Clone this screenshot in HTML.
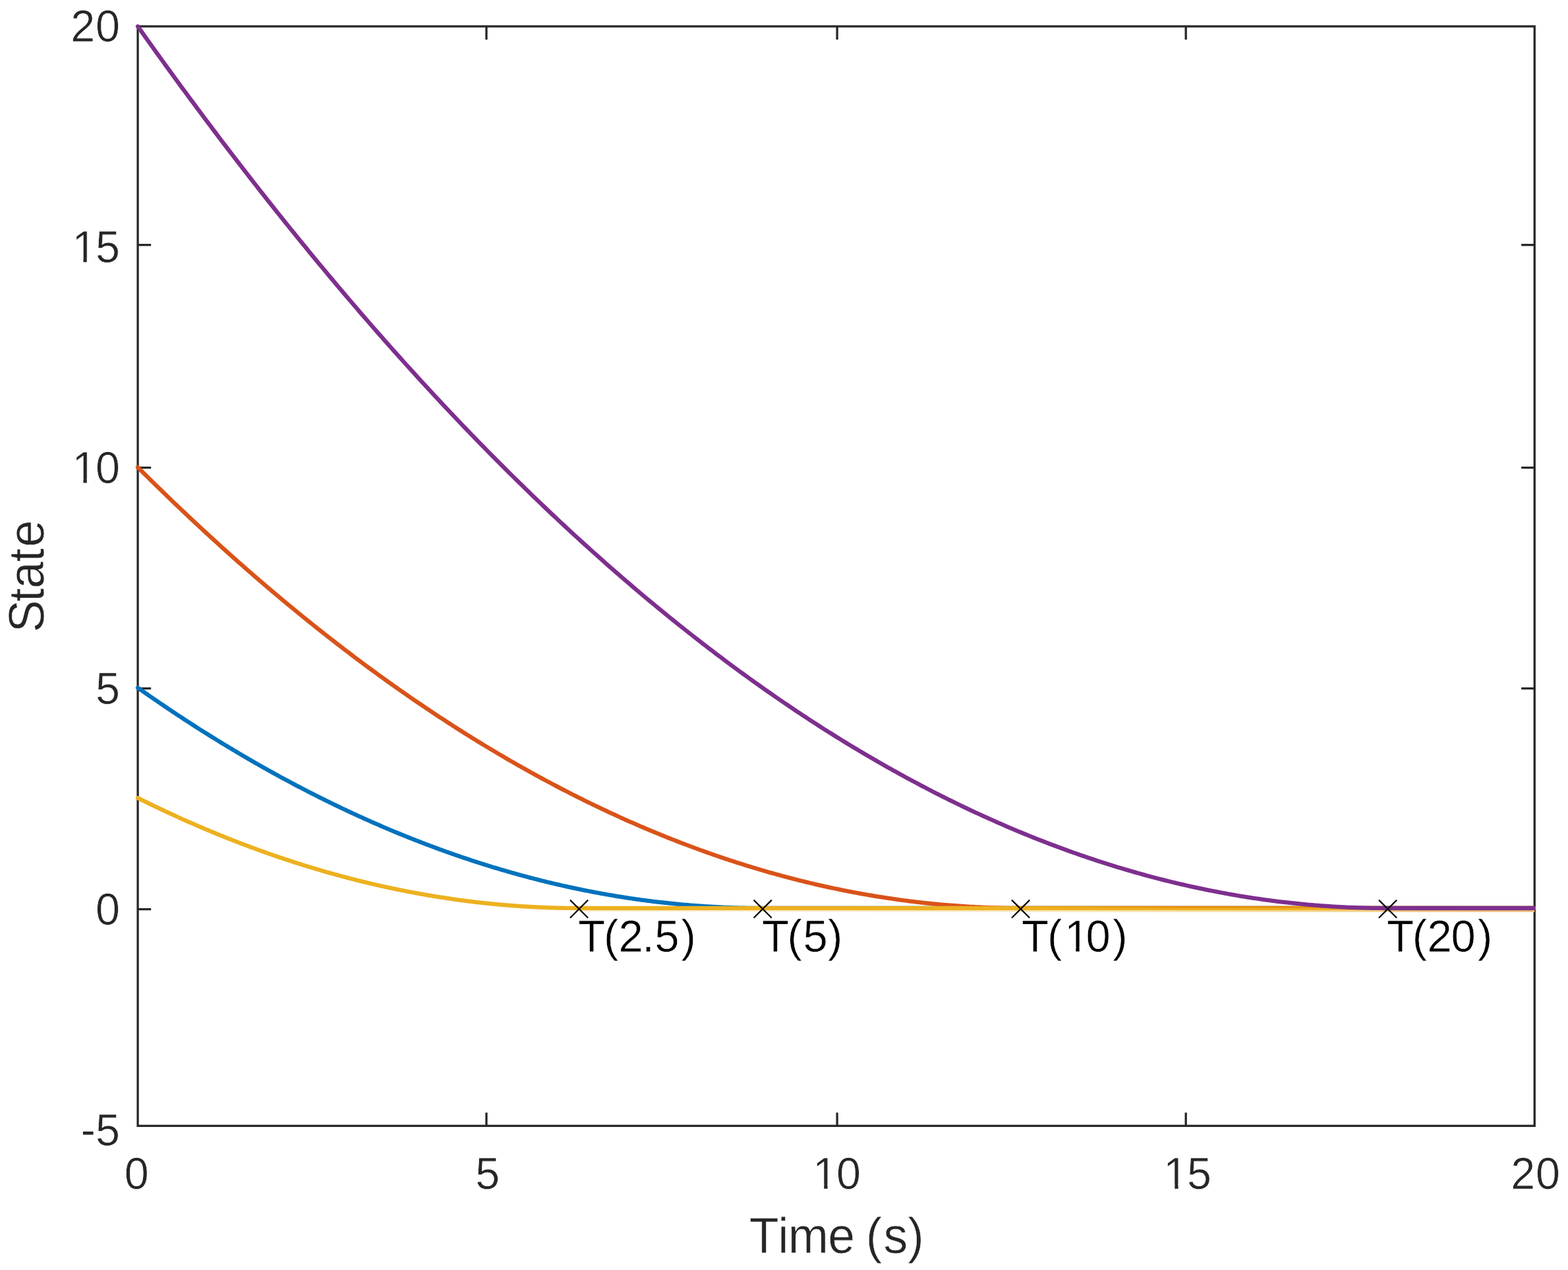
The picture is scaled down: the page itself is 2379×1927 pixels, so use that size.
<!DOCTYPE html>
<html lang="en"><head><meta charset="utf-8"><title>State vs Time</title>
<style>
html,body{margin:0;padding:0;background:#fff;}
body{width:2379px;height:1927px;overflow:hidden;}
svg{display:block;}
text{font-family:"Liberation Sans",sans-serif;stroke:#fff;stroke-width:0.6px;stroke-linejoin:round;}
.tk{fill:#262626;}
.lb{fill:#262626;}
.an{fill:#000;}
.c{fill:none;stroke-width:6.3;stroke-linejoin:round;stroke-linecap:round;}
.ax{stroke:#262626;stroke-width:3.3;fill:none;}
.mk{stroke:#000;stroke-width:2.2;fill:none;stroke-linecap:butt;}
.w{fill:#fff;}
</style></head><body>
<svg width="2379" height="1927" viewBox="0 0 2379 1927">
<rect x="0" y="0" width="2379" height="1927" fill="#fff"/>
<rect class="ax" x="209.05" y="40.00" width="2119.20" height="1668.30"/>
<line class="ax" x1="738.00" y1="1708.30" x2="738.00" y2="1688.20"/>
<line class="ax" x1="738.00" y1="40.00" x2="738.00" y2="60.10"/>
<line class="ax" x1="1270.10" y1="1708.30" x2="1270.10" y2="1688.20"/>
<line class="ax" x1="1270.10" y1="40.00" x2="1270.10" y2="60.10"/>
<line class="ax" x1="1799.20" y1="1708.30" x2="1799.20" y2="1688.20"/>
<line class="ax" x1="1799.20" y1="40.00" x2="1799.20" y2="60.10"/>
<line class="ax" x1="209.05" y1="371.65" x2="229.15" y2="371.65"/>
<line class="ax" x1="2328.25" y1="371.65" x2="2308.15" y2="371.65"/>
<line class="ax" x1="209.05" y1="709.60" x2="229.15" y2="709.60"/>
<line class="ax" x1="2328.25" y1="709.60" x2="2308.15" y2="709.60"/>
<line class="ax" x1="209.05" y1="1044.60" x2="229.15" y2="1044.60"/>
<line class="ax" x1="2328.25" y1="1044.60" x2="2308.15" y2="1044.60"/>
<line class="ax" x1="209.05" y1="1379.60" x2="229.15" y2="1379.60"/>
<line class="ax" x1="2328.25" y1="1379.60" x2="2308.15" y2="1379.60"/>
<path class="c" stroke="#0072BD" d="M209.05,1043.50 L211.42,1045.17 L213.79,1046.84 L216.16,1048.50 L218.53,1050.16 L220.90,1051.81 L223.27,1053.46 L225.64,1055.11 L228.00,1056.75 L230.37,1058.38 L232.74,1060.02 L235.11,1061.64 L237.48,1063.27 L239.85,1064.89 L242.22,1066.51 L244.59,1068.12 L246.96,1069.72 L249.33,1071.33 L251.70,1072.93 L254.07,1074.52 L256.44,1076.11 L258.81,1077.70 L261.18,1079.28 L263.54,1080.86 L265.91,1082.44 L268.28,1084.01 L270.65,1085.57 L273.02,1087.13 L275.39,1088.69 L277.76,1090.24 L280.13,1091.79 L282.50,1093.34 L284.87,1094.88 L287.24,1096.42 L289.61,1097.95 L291.98,1099.48 L294.35,1101.00 L296.72,1102.52 L299.08,1104.04 L301.45,1105.55 L303.82,1107.06 L306.19,1108.56 L308.56,1110.06 L310.93,1111.55 L313.30,1113.04 L315.67,1114.53 L318.04,1116.01 L320.41,1117.49 L322.78,1118.96 L325.15,1120.43 L327.52,1121.90 L329.89,1123.36 L332.26,1124.82 L334.62,1126.27 L336.99,1127.72 L339.36,1129.16 L341.73,1130.60 L344.10,1132.04 L346.47,1133.47 L348.84,1134.90 L351.21,1136.32 L353.58,1137.74 L355.95,1139.16 L358.32,1140.57 L360.69,1141.98 L363.06,1143.38 L365.43,1144.78 L367.80,1146.17 L370.16,1147.56 L372.53,1148.95 L374.90,1150.33 L377.27,1151.71 L379.64,1153.08 L382.01,1154.45 L384.38,1155.82 L386.75,1157.18 L389.12,1158.53 L391.49,1159.89 L393.86,1161.24 L396.23,1162.58 L398.60,1163.92 L400.97,1165.26 L403.34,1166.59 L405.71,1167.92 L408.07,1169.24 L410.44,1170.56 L412.81,1171.87 L415.18,1173.18 L417.55,1174.49 L419.92,1175.79 L422.29,1177.09 L424.66,1178.39 L427.03,1179.67 L429.40,1180.96 L431.77,1182.24 L434.14,1183.52 L436.51,1184.79 L438.88,1186.06 L441.25,1187.33 L443.61,1188.59 L445.98,1189.84 L448.35,1191.10 L450.72,1192.34 L453.09,1193.59 L455.46,1194.83 L457.83,1196.06 L460.20,1197.29 L462.57,1198.52 L464.94,1199.74 L467.31,1200.96 L469.68,1202.18 L472.05,1203.39 L474.42,1204.60 L476.79,1205.80 L479.15,1207.00 L481.52,1208.19 L483.89,1209.38 L486.26,1210.56 L488.63,1211.75 L491.00,1212.92 L493.37,1214.10 L495.74,1215.26 L498.11,1216.43 L500.48,1217.59 L502.85,1218.74 L505.22,1219.90 L507.59,1221.04 L509.96,1222.19 L512.33,1223.33 L514.69,1224.46 L517.06,1225.59 L519.43,1226.72 L521.80,1227.84 L524.17,1228.96 L526.54,1230.08 L528.91,1231.19 L531.28,1232.29 L533.65,1233.39 L536.02,1234.49 L538.39,1235.58 L540.76,1236.67 L543.13,1237.76 L545.50,1238.84 L547.87,1239.92 L550.23,1240.99 L552.60,1242.06 L554.97,1243.12 L557.34,1244.18 L559.71,1245.24 L562.08,1246.29 L564.45,1247.34 L566.82,1248.38 L569.19,1249.42 L571.56,1250.45 L573.93,1251.48 L576.30,1252.51 L578.67,1253.53 L581.04,1254.55 L583.41,1255.56 L585.77,1256.57 L588.14,1257.58 L590.51,1258.58 L592.88,1259.58 L595.25,1260.57 L597.62,1261.56 L599.99,1262.55 L602.36,1263.53 L604.73,1264.50 L607.10,1265.47 L609.47,1266.44 L611.84,1267.41 L614.21,1268.37 L616.58,1269.32 L618.95,1270.27 L621.31,1271.22 L623.68,1272.16 L626.05,1273.10 L628.42,1274.04 L630.79,1274.97 L633.16,1275.89 L635.53,1276.81 L637.90,1277.73 L640.27,1278.65 L642.64,1279.55 L645.01,1280.46 L647.38,1281.36 L649.75,1282.26 L652.12,1283.15 L654.49,1284.04 L656.85,1284.92 L659.22,1285.80 L661.59,1286.68 L663.96,1287.55 L666.33,1288.42 L668.70,1289.28 L671.07,1290.14 L673.44,1291.00 L675.81,1291.85 L678.18,1292.69 L680.55,1293.54 L682.92,1294.38 L685.29,1295.21 L687.66,1296.04 L690.03,1296.86 L692.39,1297.69 L694.76,1298.50 L697.13,1299.32 L699.50,1300.13 L701.87,1300.93 L704.24,1301.73 L706.61,1302.53 L708.98,1303.32 L711.35,1304.11 L713.72,1304.89 L716.09,1305.67 L718.46,1306.45 L720.83,1307.22 L723.20,1307.99 L725.57,1308.75 L727.93,1309.51 L730.30,1310.26 L732.67,1311.01 L735.04,1311.76 L737.41,1312.50 L739.78,1313.24 L742.15,1313.97 L744.52,1314.70 L746.89,1315.43 L749.26,1316.15 L751.63,1316.87 L754.00,1317.58 L756.37,1318.29 L758.74,1318.99 L761.11,1319.69 L763.48,1320.39 L765.84,1321.08 L768.21,1321.77 L770.58,1322.45 L772.95,1323.13 L775.32,1323.81 L777.69,1324.48 L780.06,1325.15 L782.43,1325.81 L784.80,1326.47 L787.17,1327.12 L789.54,1327.77 L791.91,1328.42 L794.28,1329.06 L796.65,1329.70 L799.02,1330.33 L801.38,1330.96 L803.75,1331.59 L806.12,1332.21 L808.49,1332.82 L810.86,1333.44 L813.23,1334.04 L815.60,1334.65 L817.97,1335.25 L820.34,1335.84 L822.71,1336.44 L825.08,1337.02 L827.45,1337.61 L829.82,1338.19 L832.19,1338.76 L834.56,1339.33 L836.92,1339.90 L839.29,1340.46 L841.66,1341.02 L844.03,1341.57 L846.40,1342.12 L848.77,1342.67 L851.14,1343.21 L853.51,1343.75 L855.88,1344.28 L858.25,1344.81 L860.62,1345.33 L862.99,1345.85 L865.36,1346.37 L867.73,1346.88 L870.10,1347.39 L872.46,1347.89 L874.83,1348.39 L877.20,1348.89 L879.57,1349.38 L881.94,1349.87 L884.31,1350.35 L886.68,1350.83 L889.05,1351.30 L891.42,1351.78 L893.79,1352.24 L896.16,1352.70 L898.53,1353.16 L900.90,1353.61 L903.27,1354.06 L905.64,1354.51 L908.00,1354.95 L910.37,1355.39 L912.74,1355.82 L915.11,1356.25 L917.48,1356.67 L919.85,1357.09 L922.22,1357.51 L924.59,1357.92 L926.96,1358.33 L929.33,1358.73 L931.70,1359.13 L934.07,1359.53 L936.44,1359.92 L938.81,1360.30 L941.18,1360.69 L943.54,1361.07 L945.91,1361.44 L948.28,1361.81 L950.65,1362.18 L953.02,1362.54 L955.39,1362.90 L957.76,1363.25 L960.13,1363.60 L962.50,1363.94 L964.87,1364.28 L967.24,1364.62 L969.61,1364.95 L971.98,1365.28 L974.35,1365.60 L976.72,1365.92 L979.08,1366.24 L981.45,1366.55 L983.82,1366.86 L986.19,1367.16 L988.56,1367.46 L990.93,1367.76 L993.30,1368.05 L995.67,1368.33 L998.04,1368.62 L1000.41,1368.89 L1002.78,1369.17 L1005.15,1369.44 L1007.52,1369.70 L1009.89,1369.96 L1012.26,1370.22 L1014.62,1370.47 L1016.99,1370.72 L1019.36,1370.97 L1021.73,1371.21 L1024.10,1371.44 L1026.47,1371.68 L1028.84,1371.90 L1031.21,1372.13 L1033.58,1372.35 L1035.95,1372.56 L1038.32,1372.77 L1040.69,1372.98 L1043.06,1373.18 L1045.43,1373.38 L1047.80,1373.58 L1050.16,1373.77 L1052.53,1373.95 L1054.90,1374.13 L1057.27,1374.31 L1059.64,1374.49 L1062.01,1374.65 L1064.38,1374.82 L1066.75,1374.98 L1069.12,1375.14 L1071.49,1375.29 L1073.86,1375.44 L1076.23,1375.58 L1078.60,1375.72 L1080.97,1375.86 L1083.34,1375.99 L1085.70,1376.12 L1088.07,1376.24 L1090.44,1376.36 L1092.81,1376.48 L1095.18,1376.59 L1097.55,1376.69 L1099.92,1376.80 L1102.29,1376.89 L1104.66,1376.99 L1107.03,1377.08 L1109.40,1377.16 L1111.77,1377.25 L1114.14,1377.32 L1116.51,1377.40 L1118.88,1377.46 L1121.24,1377.53 L1123.61,1377.59 L1125.98,1377.65 L1128.35,1377.70 L1130.72,1377.75 L1133.09,1377.79 L1135.46,1377.83 L1137.83,1377.87 L1140.20,1377.90 L1142.57,1377.92 L1144.94,1377.95 L1147.31,1377.97 L1149.68,1377.98 L1152.05,1377.99 L1154.42,1378.00 L1156.79,1378.00 L2326.65,1378.00"/>
<path class="c" stroke="#D95319" d="M209.05,709.00 L212.40,712.34 L215.75,715.67 L219.10,719.00 L222.45,722.31 L225.80,725.62 L229.15,728.92 L232.51,732.21 L235.86,735.49 L239.21,738.77 L242.56,742.03 L245.91,745.29 L249.26,748.54 L252.61,751.78 L255.96,755.01 L259.31,758.23 L262.66,761.45 L266.01,764.66 L269.36,767.86 L272.71,771.05 L276.06,774.23 L279.42,777.40 L282.77,780.57 L286.12,783.72 L289.47,786.87 L292.82,790.01 L296.17,793.14 L299.52,796.27 L302.87,799.38 L306.22,802.49 L309.57,805.59 L312.92,808.68 L316.27,811.76 L319.62,814.83 L322.98,817.90 L326.33,820.95 L329.68,824.00 L333.03,827.04 L336.38,830.07 L339.73,833.10 L343.08,836.11 L346.43,839.12 L349.78,842.11 L353.13,845.10 L356.48,848.09 L359.83,851.06 L363.18,854.02 L366.54,856.98 L369.89,859.93 L373.24,862.87 L376.59,865.80 L379.94,868.72 L383.29,871.63 L386.64,874.54 L389.99,877.44 L393.34,880.33 L396.69,883.21 L400.04,886.08 L403.39,888.94 L406.74,891.80 L410.09,894.65 L413.45,897.49 L416.80,900.32 L420.15,903.14 L423.50,905.95 L426.85,908.76 L430.20,911.56 L433.55,914.35 L436.90,917.13 L440.25,919.90 L443.60,922.66 L446.95,925.42 L450.30,928.16 L453.65,930.90 L457.01,933.63 L460.36,936.36 L463.71,939.07 L467.06,941.77 L470.41,944.47 L473.76,947.16 L477.11,949.84 L480.46,952.51 L483.81,955.18 L487.16,957.83 L490.51,960.48 L493.86,963.12 L497.21,965.75 L500.57,968.37 L503.92,970.98 L507.27,973.59 L510.62,976.18 L513.97,978.77 L517.32,981.35 L520.67,983.92 L524.02,986.48 L527.37,989.04 L530.72,991.59 L534.07,994.12 L537.42,996.65 L540.77,999.17 L544.12,1001.69 L547.48,1004.19 L550.83,1006.69 L554.18,1009.18 L557.53,1011.66 L560.88,1014.13 L564.23,1016.59 L567.58,1019.04 L570.93,1021.49 L574.28,1023.93 L577.63,1026.36 L580.98,1028.78 L584.33,1031.19 L587.68,1033.59 L591.04,1035.99 L594.39,1038.38 L597.74,1040.76 L601.09,1043.13 L604.44,1045.49 L607.79,1047.84 L611.14,1050.19 L614.49,1052.53 L617.84,1054.86 L621.19,1057.18 L624.54,1059.49 L627.89,1061.79 L631.24,1064.09 L634.60,1066.38 L637.95,1068.65 L641.30,1070.92 L644.65,1073.19 L648.00,1075.44 L651.35,1077.69 L654.70,1079.92 L658.05,1082.15 L661.40,1084.37 L664.75,1086.58 L668.10,1088.79 L671.45,1090.98 L674.80,1093.17 L678.15,1095.35 L681.51,1097.52 L684.86,1099.68 L688.21,1101.83 L691.56,1103.98 L694.91,1106.11 L698.26,1108.24 L701.61,1110.36 L704.96,1112.47 L708.31,1114.58 L711.66,1116.67 L715.01,1118.76 L718.36,1120.84 L721.71,1122.91 L725.07,1124.97 L728.42,1127.02 L731.77,1129.07 L735.12,1131.10 L738.47,1133.13 L741.82,1135.15 L745.17,1137.16 L748.52,1139.16 L751.87,1141.16 L755.22,1143.14 L758.57,1145.12 L761.92,1147.09 L765.27,1149.05 L768.63,1151.00 L771.98,1152.95 L775.33,1154.88 L778.68,1156.81 L782.03,1158.73 L785.38,1160.64 L788.73,1162.54 L792.08,1164.44 L795.43,1166.32 L798.78,1168.20 L802.13,1170.07 L805.48,1171.93 L808.83,1173.78 L812.18,1175.63 L815.54,1177.46 L818.89,1179.29 L822.24,1181.11 L825.59,1182.92 L828.94,1184.72 L832.29,1186.52 L835.64,1188.30 L838.99,1190.08 L842.34,1191.85 L845.69,1193.61 L849.04,1195.36 L852.39,1197.10 L855.74,1198.84 L859.10,1200.56 L862.45,1202.28 L865.80,1203.99 L869.15,1205.69 L872.50,1207.39 L875.85,1209.07 L879.20,1210.75 L882.55,1212.42 L885.90,1214.08 L889.25,1215.73 L892.60,1217.37 L895.95,1219.01 L899.30,1220.63 L902.66,1222.25 L906.01,1223.86 L909.36,1225.46 L912.71,1227.06 L916.06,1228.64 L919.41,1230.22 L922.76,1231.79 L926.11,1233.35 L929.46,1234.90 L932.81,1236.44 L936.16,1237.97 L939.51,1239.50 L942.86,1241.02 L946.21,1242.53 L949.57,1244.03 L952.92,1245.52 L956.27,1247.01 L959.62,1248.48 L962.97,1249.95 L966.32,1251.41 L969.67,1252.86 L973.02,1254.30 L976.37,1255.74 L979.72,1257.16 L983.07,1258.58 L986.42,1259.99 L989.77,1261.39 L993.13,1262.78 L996.48,1264.17 L999.83,1265.54 L1003.18,1266.91 L1006.53,1268.27 L1009.88,1269.62 L1013.23,1270.96 L1016.58,1272.29 L1019.93,1273.62 L1023.28,1274.94 L1026.63,1276.25 L1029.98,1277.55 L1033.33,1278.84 L1036.69,1280.12 L1040.04,1281.40 L1043.39,1282.66 L1046.74,1283.92 L1050.09,1285.17 L1053.44,1286.41 L1056.79,1287.65 L1060.14,1288.87 L1063.49,1290.09 L1066.84,1291.30 L1070.19,1292.50 L1073.54,1293.69 L1076.89,1294.87 L1080.24,1296.05 L1083.60,1297.21 L1086.95,1298.37 L1090.30,1299.52 L1093.65,1300.66 L1097.00,1301.80 L1100.35,1302.92 L1103.70,1304.04 L1107.05,1305.15 L1110.40,1306.25 L1113.75,1307.34 L1117.10,1308.42 L1120.45,1309.49 L1123.80,1310.56 L1127.16,1311.62 L1130.51,1312.67 L1133.86,1313.71 L1137.21,1314.74 L1140.56,1315.77 L1143.91,1316.78 L1147.26,1317.79 L1150.61,1318.79 L1153.96,1319.78 L1157.31,1320.76 L1160.66,1321.74 L1164.01,1322.70 L1167.36,1323.66 L1170.72,1324.61 L1174.07,1325.55 L1177.42,1326.48 L1180.77,1327.41 L1184.12,1328.32 L1187.47,1329.23 L1190.82,1330.13 L1194.17,1331.02 L1197.52,1331.90 L1200.87,1332.78 L1204.22,1333.64 L1207.57,1334.50 L1210.92,1335.35 L1214.27,1336.19 L1217.63,1337.02 L1220.98,1337.84 L1224.33,1338.66 L1227.68,1339.47 L1231.03,1340.26 L1234.38,1341.05 L1237.73,1341.84 L1241.08,1342.61 L1244.43,1343.38 L1247.78,1344.13 L1251.13,1344.88 L1254.48,1345.62 L1257.83,1346.35 L1261.19,1347.08 L1264.54,1347.79 L1267.89,1348.50 L1271.24,1349.20 L1274.59,1349.89 L1277.94,1350.57 L1281.29,1351.24 L1284.64,1351.90 L1287.99,1352.56 L1291.34,1353.21 L1294.69,1353.85 L1298.04,1354.48 L1301.39,1355.10 L1304.75,1355.72 L1308.10,1356.32 L1311.45,1356.92 L1314.80,1357.51 L1318.15,1358.09 L1321.50,1358.67 L1324.85,1359.23 L1328.20,1359.79 L1331.55,1360.33 L1334.90,1360.87 L1338.25,1361.40 L1341.60,1361.93 L1344.95,1362.44 L1348.30,1362.95 L1351.66,1363.45 L1355.01,1363.93 L1358.36,1364.42 L1361.71,1364.89 L1365.06,1365.35 L1368.41,1365.81 L1371.76,1366.25 L1375.11,1366.69 L1378.46,1367.12 L1381.81,1367.55 L1385.16,1367.96 L1388.51,1368.37 L1391.86,1368.76 L1395.22,1369.15 L1398.57,1369.53 L1401.92,1369.91 L1405.27,1370.27 L1408.62,1370.62 L1411.97,1370.97 L1415.32,1371.31 L1418.67,1371.64 L1422.02,1371.96 L1425.37,1372.28 L1428.72,1372.58 L1432.07,1372.88 L1435.42,1373.17 L1438.78,1373.45 L1442.13,1373.72 L1445.48,1373.98 L1448.83,1374.24 L1452.18,1374.48 L1455.53,1374.72 L1458.88,1374.95 L1462.23,1375.17 L1465.58,1375.39 L1468.93,1375.59 L1472.28,1375.79 L1475.63,1375.98 L1478.98,1376.16 L1482.33,1376.33 L1485.69,1376.49 L1489.04,1376.65 L1492.39,1376.79 L1495.74,1376.93 L1499.09,1377.06 L1502.44,1377.18 L1505.79,1377.29 L1509.14,1377.40 L1512.49,1377.49 L1515.84,1377.58 L1519.19,1377.66 L1522.54,1377.73 L1525.89,1377.80 L1529.25,1377.85 L1532.60,1377.90 L1535.95,1377.93 L1539.30,1377.96 L1542.65,1377.98 L1546.00,1378.00 L1549.35,1378.00 L2326.65,1378.00"/>
<defs>
<linearGradient id="fr" gradientUnits="userSpaceOnUse" x1="886" y1="0" x2="2328.25" y2="0">
<stop offset="0.0000" stop-color="#FDF5E4"/>
<stop offset="0.2871" stop-color="#FCF1DA"/>
<stop offset="0.4673" stop-color="#FAEBC8"/>
<stop offset="0.6199" stop-color="#F8E4B0"/>
<stop offset="0.8348" stop-color="#F4D596"/>
<stop offset="0.8591" stop-color="#F1CB8E"/>
<stop offset="1.0000" stop-color="#EFC384"/>
</linearGradient>
<linearGradient id="og" gradientUnits="userSpaceOnUse" x1="1500" y1="0" x2="2110" y2="0">
<stop offset="0" stop-color="#E8940F" stop-opacity="0"/>
<stop offset="0.2" stop-color="#E8940F" stop-opacity="0.25"/>
<stop offset="0.48" stop-color="#E8940F" stop-opacity="1"/>
<stop offset="1" stop-color="#E8940F" stop-opacity="1"/>
</linearGradient>
</defs>
<rect x="886.00" y="1380.90" width="1442.25" height="3.10" fill="url(#fr)"/>
<path class="c" stroke="#EDB120" d="M209.05,1210.75 L210.73,1211.59 L212.40,1212.42 L214.08,1213.25 L215.75,1214.08 L217.43,1214.91 L219.10,1215.73 L220.78,1216.55 L222.45,1217.37 L224.13,1218.19 L225.80,1219.01 L227.48,1219.82 L229.15,1220.63 L230.83,1221.44 L232.51,1222.25 L234.18,1223.06 L235.86,1223.86 L237.53,1224.66 L239.21,1225.46 L240.88,1226.26 L242.56,1227.06 L244.23,1227.85 L245.91,1228.64 L247.58,1229.43 L249.26,1230.22 L250.93,1231.00 L252.61,1231.79 L254.29,1232.57 L255.96,1233.35 L257.64,1234.12 L259.31,1234.90 L260.99,1235.67 L262.66,1236.44 L264.34,1237.21 L266.01,1237.97 L267.69,1238.74 L269.36,1239.50 L271.04,1240.26 L272.71,1241.02 L274.39,1241.77 L276.06,1242.53 L277.74,1243.28 L279.42,1244.03 L281.09,1244.78 L282.77,1245.52 L284.44,1246.26 L286.12,1247.01 L287.79,1247.74 L289.47,1248.48 L291.14,1249.22 L292.82,1249.95 L294.49,1250.68 L296.17,1251.41 L297.84,1252.13 L299.52,1252.86 L301.20,1253.58 L302.87,1254.30 L304.55,1255.02 L306.22,1255.74 L307.90,1256.45 L309.57,1257.16 L311.25,1257.87 L312.92,1258.58 L314.60,1259.28 L316.27,1259.99 L317.95,1260.69 L319.62,1261.39 L321.30,1262.09 L322.98,1262.78 L324.65,1263.47 L326.33,1264.17 L328.00,1264.85 L329.68,1265.54 L331.35,1266.23 L333.03,1266.91 L334.70,1267.59 L336.38,1268.27 L338.05,1268.94 L339.73,1269.62 L341.40,1270.29 L343.08,1270.96 L344.76,1271.63 L346.43,1272.29 L348.11,1272.96 L349.78,1273.62 L351.46,1274.28 L353.13,1274.94 L354.81,1275.59 L356.48,1276.25 L358.16,1276.90 L359.83,1277.55 L361.51,1278.19 L363.18,1278.84 L364.86,1279.48 L366.54,1280.12 L368.21,1280.76 L369.89,1281.40 L371.56,1282.03 L373.24,1282.66 L374.91,1283.29 L376.59,1283.92 L378.26,1284.55 L379.94,1285.17 L381.61,1285.79 L383.29,1286.41 L384.96,1287.03 L386.64,1287.65 L388.32,1288.26 L389.99,1288.87 L391.67,1289.48 L393.34,1290.09 L395.02,1290.69 L396.69,1291.30 L398.37,1291.90 L400.04,1292.50 L401.72,1293.09 L403.39,1293.69 L405.07,1294.28 L406.74,1294.87 L408.42,1295.46 L410.09,1296.05 L411.77,1296.63 L413.45,1297.21 L415.12,1297.79 L416.80,1298.37 L418.47,1298.95 L420.15,1299.52 L421.82,1300.09 L423.50,1300.66 L425.17,1301.23 L426.85,1301.80 L428.52,1302.36 L430.20,1302.92 L431.87,1303.48 L433.55,1304.04 L435.23,1304.59 L436.90,1305.15 L438.58,1305.70 L440.25,1306.25 L441.93,1306.79 L443.60,1307.34 L445.28,1307.88 L446.95,1308.42 L448.63,1308.96 L450.30,1309.49 L451.98,1310.03 L453.65,1310.56 L455.33,1311.09 L457.01,1311.62 L458.68,1312.14 L460.36,1312.67 L462.03,1313.19 L463.71,1313.71 L465.38,1314.23 L467.06,1314.74 L468.73,1315.26 L470.41,1315.77 L472.08,1316.28 L473.76,1316.78 L475.43,1317.29 L477.11,1317.79 L478.79,1318.29 L480.46,1318.79 L482.14,1319.29 L483.81,1319.78 L485.49,1320.27 L487.16,1320.76 L488.84,1321.25 L490.51,1321.74 L492.19,1322.22 L493.86,1322.70 L495.54,1323.18 L497.21,1323.66 L498.89,1324.14 L500.57,1324.61 L502.24,1325.08 L503.92,1325.55 L505.59,1326.02 L507.27,1326.48 L508.94,1326.95 L510.62,1327.41 L512.29,1327.87 L513.97,1328.32 L515.64,1328.78 L517.32,1329.23 L518.99,1329.68 L520.67,1330.13 L522.35,1330.58 L524.02,1331.02 L525.70,1331.46 L527.37,1331.90 L529.05,1332.34 L530.72,1332.78 L532.40,1333.21 L534.07,1333.64 L535.75,1334.07 L537.42,1334.50 L539.10,1334.92 L540.77,1335.35 L542.45,1335.77 L544.12,1336.19 L545.80,1336.60 L547.48,1337.02 L549.15,1337.43 L550.83,1337.84 L552.50,1338.25 L554.18,1338.66 L555.85,1339.06 L557.53,1339.47 L559.20,1339.87 L560.88,1340.26 L562.55,1340.66 L564.23,1341.05 L565.90,1341.45 L567.58,1341.84 L569.26,1342.22 L570.93,1342.61 L572.61,1342.99 L574.28,1343.38 L575.96,1343.75 L577.63,1344.13 L579.31,1344.51 L580.98,1344.88 L582.66,1345.25 L584.33,1345.62 L586.01,1345.99 L587.68,1346.35 L589.36,1346.71 L591.04,1347.08 L592.71,1347.43 L594.39,1347.79 L596.06,1348.14 L597.74,1348.50 L599.41,1348.85 L601.09,1349.20 L602.76,1349.54 L604.44,1349.89 L606.11,1350.23 L607.79,1350.57 L609.46,1350.90 L611.14,1351.24 L612.82,1351.57 L614.49,1351.90 L616.17,1352.23 L617.84,1352.56 L619.52,1352.89 L621.19,1353.21 L622.87,1353.53 L624.54,1353.85 L626.22,1354.17 L627.89,1354.48 L629.57,1354.79 L631.24,1355.10 L632.92,1355.41 L634.60,1355.72 L636.27,1356.02 L637.95,1356.32 L639.62,1356.62 L641.30,1356.92 L642.97,1357.22 L644.65,1357.51 L646.32,1357.80 L648.00,1358.09 L649.67,1358.38 L651.35,1358.67 L653.02,1358.95 L654.70,1359.23 L656.38,1359.51 L658.05,1359.79 L659.73,1360.06 L661.40,1360.33 L663.08,1360.60 L664.75,1360.87 L666.43,1361.14 L668.10,1361.40 L669.78,1361.67 L671.45,1361.93 L673.13,1362.19 L674.80,1362.44 L676.48,1362.70 L678.15,1362.95 L679.83,1363.20 L681.51,1363.45 L683.18,1363.69 L684.86,1363.93 L686.53,1364.18 L688.21,1364.42 L689.88,1364.65 L691.56,1364.89 L693.23,1365.12 L694.91,1365.35 L696.58,1365.58 L698.26,1365.81 L699.93,1366.03 L701.61,1366.25 L703.29,1366.48 L704.96,1366.69 L706.64,1366.91 L708.31,1367.12 L709.99,1367.34 L711.66,1367.55 L713.34,1367.75 L715.01,1367.96 L716.69,1368.16 L718.36,1368.37 L720.04,1368.57 L721.71,1368.76 L723.39,1368.96 L725.07,1369.15 L726.74,1369.34 L728.42,1369.53 L730.09,1369.72 L731.77,1369.91 L733.44,1370.09 L735.12,1370.27 L736.79,1370.45 L738.47,1370.62 L740.14,1370.80 L741.82,1370.97 L743.49,1371.14 L745.17,1371.31 L746.85,1371.48 L748.52,1371.64 L750.20,1371.80 L751.87,1371.96 L753.55,1372.12 L755.22,1372.28 L756.90,1372.43 L758.57,1372.58 L760.25,1372.73 L761.92,1372.88 L763.60,1373.02 L765.27,1373.17 L766.95,1373.31 L768.63,1373.45 L770.30,1373.58 L771.98,1373.72 L773.65,1373.85 L775.33,1373.98 L777.00,1374.11 L778.68,1374.24 L780.35,1374.36 L782.03,1374.48 L783.70,1374.60 L785.38,1374.72 L787.05,1374.84 L788.73,1374.95 L790.41,1375.06 L792.08,1375.17 L793.76,1375.28 L795.43,1375.39 L797.11,1375.49 L798.78,1375.59 L800.46,1375.69 L802.13,1375.79 L803.81,1375.88 L805.48,1375.98 L807.16,1376.07 L808.83,1376.16 L810.51,1376.24 L812.18,1376.33 L813.86,1376.41 L815.54,1376.49 L817.21,1376.57 L818.89,1376.65 L820.56,1376.72 L822.24,1376.79 L823.91,1376.86 L825.59,1376.93 L827.26,1377.00 L828.94,1377.06 L830.61,1377.12 L832.29,1377.18 L833.96,1377.24 L835.64,1377.29 L837.32,1377.35 L838.99,1377.40 L840.67,1377.45 L842.34,1377.49 L844.02,1377.54 L845.69,1377.58 L847.37,1377.62 L849.04,1377.66 L850.72,1377.70 L852.39,1377.73 L854.07,1377.76 L855.74,1377.80 L857.42,1377.82 L859.10,1377.85 L860.77,1377.87 L862.45,1377.90 L864.12,1377.92 L865.80,1377.93 L867.47,1377.95 L869.15,1377.96 L870.82,1377.97 L872.50,1377.98 L874.17,1377.99 L875.85,1378.00 L877.52,1378.00 L879.20,1378.00 L2326.65,1378.00"/>
<rect x="1500" y="1375.00" width="610" height="3.05" fill="url(#og)"/>
<path class="c" stroke="#7E2F8E" d="M209.05,40.00 L213.79,46.68 L218.53,53.35 L223.27,59.99 L228.00,66.63 L232.74,73.24 L237.48,79.84 L242.22,86.42 L246.96,92.98 L251.70,99.53 L256.44,106.06 L261.18,112.58 L265.91,119.08 L270.65,125.56 L275.39,132.02 L280.13,138.47 L284.87,144.90 L289.61,151.31 L294.35,157.71 L299.08,164.09 L303.82,170.45 L308.56,176.80 L313.30,183.13 L318.04,189.45 L322.78,195.74 L327.52,202.02 L332.26,208.29 L336.99,214.53 L341.73,220.76 L346.47,226.98 L351.21,233.17 L355.95,239.35 L360.69,245.52 L365.43,251.66 L370.16,257.79 L374.90,263.91 L379.64,270.00 L384.38,276.08 L389.12,282.14 L393.86,288.19 L398.60,294.22 L403.34,300.23 L408.07,306.23 L412.81,312.21 L417.55,318.17 L422.29,324.12 L427.03,330.04 L431.77,335.96 L436.51,341.85 L441.25,347.73 L445.98,353.59 L450.72,359.44 L455.46,365.27 L460.20,371.08 L464.94,376.87 L469.68,382.65 L474.42,388.42 L479.15,394.16 L483.89,399.89 L488.63,405.60 L493.37,411.29 L498.11,416.97 L502.85,422.63 L507.59,428.28 L512.33,433.91 L517.06,439.52 L521.80,445.11 L526.54,450.69 L531.28,456.25 L536.02,461.80 L540.76,467.32 L545.50,472.83 L550.23,478.33 L554.97,483.81 L559.71,489.27 L564.45,494.71 L569.19,500.14 L573.93,505.55 L578.67,510.94 L583.41,516.32 L588.14,521.68 L592.88,527.02 L597.62,532.35 L602.36,537.66 L607.10,542.95 L611.84,548.23 L616.58,553.49 L621.31,558.73 L626.05,563.96 L630.79,569.17 L635.53,574.36 L640.27,579.54 L645.01,584.70 L649.75,589.84 L654.49,594.97 L659.22,600.08 L663.96,605.17 L668.70,610.25 L673.44,615.31 L678.18,620.35 L682.92,625.37 L687.66,630.38 L692.39,635.38 L697.13,640.35 L701.87,645.31 L706.61,650.25 L711.35,655.18 L716.09,660.09 L720.83,664.98 L725.57,669.86 L730.30,674.71 L735.04,679.56 L739.78,684.38 L744.52,689.19 L749.26,693.98 L754.00,698.76 L758.74,703.51 L763.48,708.26 L768.21,712.98 L772.95,717.69 L777.69,722.38 L782.43,727.05 L787.17,731.71 L791.91,736.35 L796.65,740.98 L801.38,745.59 L806.12,750.18 L810.86,754.75 L815.60,759.31 L820.34,763.85 L825.08,768.37 L829.82,772.88 L834.56,777.37 L839.29,781.85 L844.03,786.30 L848.77,790.74 L853.51,795.17 L858.25,799.57 L862.99,803.96 L867.73,808.34 L872.46,812.70 L877.20,817.04 L881.94,821.36 L886.68,825.67 L891.42,829.96 L896.16,834.23 L900.90,838.48 L905.64,842.72 L910.37,846.95 L915.11,851.15 L919.85,855.34 L924.59,859.52 L929.33,863.67 L934.07,867.81 L938.81,871.93 L943.54,876.04 L948.28,880.13 L953.02,884.20 L957.76,888.26 L962.50,892.30 L967.24,896.32 L971.98,900.33 L976.72,904.31 L981.45,908.29 L986.19,912.24 L990.93,916.18 L995.67,920.10 L1000.41,924.01 L1005.15,927.90 L1009.89,931.77 L1014.62,935.62 L1019.36,939.46 L1024.10,943.28 L1028.84,947.09 L1033.58,950.88 L1038.32,954.65 L1043.06,958.40 L1047.80,962.14 L1052.53,965.86 L1057.27,969.57 L1062.01,973.25 L1066.75,976.93 L1071.49,980.58 L1076.23,984.22 L1080.97,987.84 L1085.70,991.44 L1090.44,995.03 L1095.18,998.60 L1099.92,1002.16 L1104.66,1005.69 L1109.40,1009.21 L1114.14,1012.72 L1118.88,1016.20 L1123.61,1019.68 L1128.35,1023.13 L1133.09,1026.57 L1137.83,1029.99 L1142.57,1033.39 L1147.31,1036.78 L1152.05,1040.15 L1156.79,1043.50 L1161.52,1046.84 L1166.26,1050.16 L1171.00,1053.46 L1175.74,1056.75 L1180.48,1060.02 L1185.22,1063.27 L1189.96,1066.51 L1194.69,1069.72 L1199.43,1072.93 L1204.17,1076.11 L1208.91,1079.28 L1213.65,1082.44 L1218.39,1085.57 L1223.13,1088.69 L1227.87,1091.79 L1232.60,1094.88 L1237.34,1097.95 L1242.08,1101.00 L1246.82,1104.04 L1251.56,1107.06 L1256.30,1110.06 L1261.04,1113.04 L1265.77,1116.01 L1270.51,1118.96 L1275.25,1121.90 L1279.99,1124.82 L1284.73,1127.72 L1289.47,1130.60 L1294.21,1133.47 L1298.95,1136.32 L1303.68,1139.16 L1308.42,1141.98 L1313.16,1144.78 L1317.90,1147.56 L1322.64,1150.33 L1327.38,1153.08 L1332.12,1155.82 L1336.85,1158.53 L1341.59,1161.24 L1346.33,1163.92 L1351.07,1166.59 L1355.81,1169.24 L1360.55,1171.87 L1365.29,1174.49 L1370.03,1177.09 L1374.76,1179.67 L1379.50,1182.24 L1384.24,1184.79 L1388.98,1187.33 L1393.72,1189.84 L1398.46,1192.34 L1403.20,1194.83 L1407.93,1197.29 L1412.67,1199.74 L1417.41,1202.18 L1422.15,1204.60 L1426.89,1207.00 L1431.63,1209.38 L1436.37,1211.75 L1441.11,1214.10 L1445.84,1216.43 L1450.58,1218.74 L1455.32,1221.04 L1460.06,1223.33 L1464.80,1225.59 L1469.54,1227.84 L1474.28,1230.08 L1479.01,1232.29 L1483.75,1234.49 L1488.49,1236.67 L1493.23,1238.84 L1497.97,1240.99 L1502.71,1243.12 L1507.45,1245.24 L1512.19,1247.34 L1516.92,1249.42 L1521.66,1251.48 L1526.40,1253.53 L1531.14,1255.56 L1535.88,1257.58 L1540.62,1259.58 L1545.36,1261.56 L1550.10,1263.53 L1554.83,1265.47 L1559.57,1267.41 L1564.31,1269.32 L1569.05,1271.22 L1573.79,1273.10 L1578.53,1274.97 L1583.27,1276.81 L1588.00,1278.65 L1592.74,1280.46 L1597.48,1282.26 L1602.22,1284.04 L1606.96,1285.80 L1611.70,1287.55 L1616.44,1289.28 L1621.18,1291.00 L1625.91,1292.69 L1630.65,1294.38 L1635.39,1296.04 L1640.13,1297.69 L1644.87,1299.32 L1649.61,1300.93 L1654.35,1302.53 L1659.08,1304.11 L1663.82,1305.67 L1668.56,1307.22 L1673.30,1308.75 L1678.04,1310.26 L1682.78,1311.76 L1687.52,1313.24 L1692.26,1314.70 L1696.99,1316.15 L1701.73,1317.58 L1706.47,1318.99 L1711.21,1320.39 L1715.95,1321.77 L1720.69,1323.13 L1725.43,1324.48 L1730.16,1325.81 L1734.90,1327.12 L1739.64,1328.42 L1744.38,1329.70 L1749.12,1330.96 L1753.86,1332.21 L1758.60,1333.44 L1763.34,1334.65 L1768.07,1335.84 L1772.81,1337.02 L1777.55,1338.19 L1782.29,1339.33 L1787.03,1340.46 L1791.77,1341.57 L1796.51,1342.67 L1801.24,1343.75 L1805.98,1344.81 L1810.72,1345.85 L1815.46,1346.88 L1820.20,1347.89 L1824.94,1348.89 L1829.68,1349.87 L1834.42,1350.83 L1839.15,1351.78 L1843.89,1352.70 L1848.63,1353.61 L1853.37,1354.51 L1858.11,1355.39 L1862.85,1356.25 L1867.59,1357.09 L1872.33,1357.92 L1877.06,1358.73 L1881.80,1359.53 L1886.54,1360.30 L1891.28,1361.07 L1896.02,1361.81 L1900.76,1362.54 L1905.50,1363.25 L1910.23,1363.94 L1914.97,1364.62 L1919.71,1365.28 L1924.45,1365.92 L1929.19,1366.55 L1933.93,1367.16 L1938.67,1367.76 L1943.41,1368.33 L1948.14,1368.89 L1952.88,1369.44 L1957.62,1369.96 L1962.36,1370.47 L1967.10,1370.97 L1971.84,1371.44 L1976.58,1371.90 L1981.31,1372.35 L1986.05,1372.77 L1990.79,1373.18 L1995.53,1373.58 L2000.27,1373.95 L2005.01,1374.31 L2009.75,1374.65 L2014.49,1374.98 L2019.22,1375.29 L2023.96,1375.58 L2028.70,1375.86 L2033.44,1376.12 L2038.18,1376.36 L2042.92,1376.59 L2047.66,1376.80 L2052.39,1376.99 L2057.13,1377.16 L2061.87,1377.32 L2066.61,1377.46 L2071.35,1377.59 L2076.09,1377.70 L2080.83,1377.79 L2085.57,1377.87 L2090.30,1377.92 L2095.04,1377.97 L2099.78,1377.99 L2104.52,1378.00 L2326.65,1378.00"/>
<path class="mk" d="M865.00,1365.60 L892.20,1392.80 M865.00,1392.80 L892.20,1365.60"/>
<path class="mk" d="M1143.60,1365.60 L1170.80,1392.80 M1143.60,1392.80 L1170.80,1365.60"/>
<path class="mk" d="M1535.00,1365.60 L1562.20,1392.80 M1535.00,1392.80 L1562.20,1365.60"/>
<path class="mk" d="M2092.00,1365.60 L2119.20,1392.80 M2092.00,1392.80 L2119.20,1365.60"/>
<g transform="translate(0,63.30) scale(1,1.0200)">
<text class="tk" font-size="66.5" x="107.26 145.01" y="0">20</text>
</g>
<g transform="translate(0,398.30) scale(1,1.0200)">
<text class="tk" font-size="66.5" x="109.45 145.13" y="0">15</text>
<rect class="w" x="112.77" y="-6.98" width="13.67" height="8.48"/>
<rect class="w" x="131.76" y="-6.98" width="11.74" height="8.48"/>
</g>
<g transform="translate(0,733.30) scale(1,1.0200)">
<text class="tk" font-size="66.5" x="109.45 145.06" y="0">10</text>
<rect class="w" x="112.77" y="-6.98" width="13.67" height="8.48"/>
<rect class="w" x="131.76" y="-6.98" width="11.74" height="8.48"/>
</g>
<g transform="translate(0,1068.30) scale(1,1.0200)">
<text class="tk" font-size="66.5" x="145.13" y="0">5</text>
</g>
<g transform="translate(0,1403.30) scale(1,1.0200)">
<text class="tk" font-size="66.5" x="145.06" y="0">0</text>
</g>
<g transform="translate(0,1738.30) scale(1,1.0200)">
<text class="tk" font-size="66.5" x="122.78 145.13" y="0">-5</text>
</g>
<g transform="translate(0,1804.30) scale(1,1.0200)">
<text class="tk" font-size="66.5" x="188.84" y="0">0</text>
</g>
<g transform="translate(0,1804.30) scale(1,1.0200)">
<text class="tk" font-size="66.5" x="721.23" y="0">5</text>
</g>
<g transform="translate(0,1804.30) scale(1,1.0200)">
<text class="tk" font-size="66.5" x="1233.25 1269.01" y="0">10</text>
<rect class="w" x="1236.57" y="-6.98" width="13.67" height="8.48"/>
<rect class="w" x="1255.56" y="-6.98" width="11.74" height="8.48"/>
</g>
<g transform="translate(0,1804.30) scale(1,1.0200)">
<text class="tk" font-size="66.5" x="1765.35 1801.08" y="0">15</text>
<rect class="w" x="1768.67" y="-6.98" width="13.67" height="8.48"/>
<rect class="w" x="1787.66" y="-6.98" width="11.74" height="8.48"/>
</g>
<g transform="translate(0,1804.30) scale(1,1.0200)">
<text class="tk" font-size="66.5" x="2292.16 2329.91" y="0">20</text>
</g>
<g transform="translate(0,1444.10) scale(1,1.0300)">
<text class="an" font-size="67" x="877.17 916.07 938.47 974.14 993.14 1033.42" y="0">T(2.5)</text>
</g>
<g transform="translate(0,1444.10) scale(1,1.0300)">
<text class="an" font-size="67" x="1155.91 1194.42 1218.54 1256.07" y="0">T(5)</text>
</g>
<g transform="translate(0,1444.10) scale(1,1.0300)">
<text class="an" font-size="67" x="1549.97 1589.12 1615.20 1647.47 1688.27" y="0">T(10)</text>
<rect class="w" x="1618.55" y="-7.04" width="13.77" height="8.54"/>
<rect class="w" x="1637.68" y="-7.04" width="11.82" height="8.54"/>
</g>
<g transform="translate(0,1444.10) scale(1,1.0300)">
<text class="an" font-size="67" x="2104.16 2142.82 2165.47 2201.42 2242.02" y="0">T(20)</text>
</g>
<g transform="translate(0,1901.20) scale(1,1.0300)">
<text class="lb" font-size="73.5" x="1136.78 1180.29 1195.74 1256.14 1292.89 1313.75 1340.52 1377.37" y="0">Time (s)</text>
</g>
<g transform="translate(66.00,955.20) rotate(-90) scale(1,1.0300)">
<text class="lb" font-size="73.5" x="-4.36 42.14 62.31 102.64 125.14" y="0">State</text>
</g>
</svg>
</body></html>
